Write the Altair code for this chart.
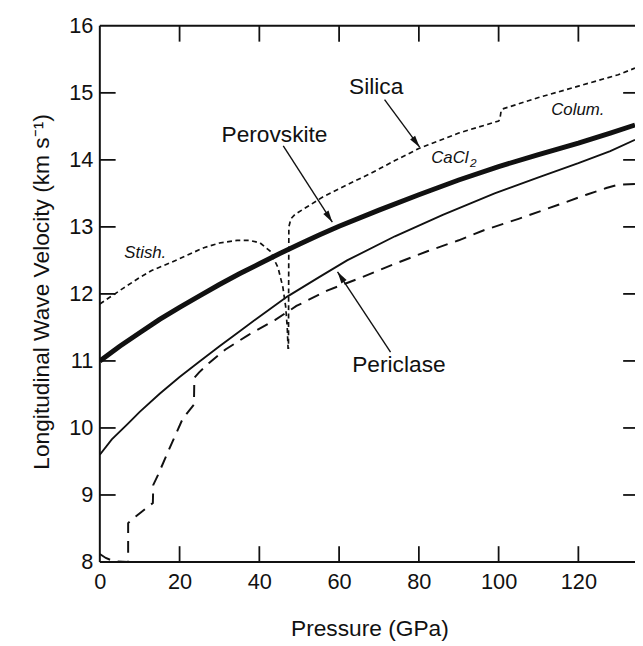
import math
import altair as alt
import pandas as pd

# ---------------- data ----------------
W, H = 542, 543
XMAX = 134.2
YMIN, YMAX = 8, 16

perov_p = [0, 5, 10, 15, 20, 25, 30, 35, 40, 45, 50, 55, 60, 70, 80, 90, 100, 110, 120, 128, 134.2]
perov_v = [11.0, 11.22, 11.42, 11.62, 11.8, 11.97, 12.14, 12.3, 12.45, 12.6, 12.74, 12.88, 13.01,
           13.25, 13.48, 13.7, 13.9, 14.08, 14.25, 14.4, 14.52]

peri_p = [0, 3, 7, 10, 15, 20, 25, 30, 35, 40, 47, 55, 62, 74, 86, 99, 110, 120, 128, 134.2]
peri_v = [9.6, 9.83, 10.06, 10.24, 10.51, 10.76, 10.99, 11.22, 11.44, 11.66, 11.96, 12.25, 12.5,
          12.86, 13.18, 13.5, 13.74, 13.95, 14.13, 14.3]

dash_p = [0, 1.5, 3.5, 7.1, 7.1, 9.0, 13.3, 13.4, 14.6, 17.5, 20.8, 23.6, 23.7, 24.9, 27.4, 31.5,
          37.3, 43.9, 49.3, 57, 65.8, 74, 82.3, 90, 96.3, 105, 115, 122, 127, 130, 134.2]
dash_v = [8.12, 8.06, 8.01, 8.0, 8.58, 8.68, 8.88, 9.15, 9.30, 9.70, 10.14, 10.35, 10.75, 10.83,
          10.97, 11.17, 11.39, 11.61, 11.82, 12.05, 12.25, 12.45, 12.64, 12.80, 12.95, 13.12, 13.33,
          13.48, 13.58, 13.63, 13.64]

sil_p = [0, 1.5, 3.5, 6, 9.6, 13, 17.9, 22, 26.1, 30, 34.4, 37.5, 40.2, 42.7, 44.7, 45.9, 46.6,
         47.0, 47.2, 47.3, 47.4, 47.9, 49, 52, 56, 62, 68, 74, 80, 90, 100, 100.3, 100.6, 101,
         110, 120, 130, 134.2]
sil_v = [11.85, 11.91, 11.99, 12.09, 12.23, 12.35, 12.47, 12.58, 12.69, 12.76, 12.8, 12.8, 12.76,
         12.64, 12.39, 12.1, 11.81, 11.5, 11.19, 11.19, 13.0, 13.12, 13.19, 13.3, 13.45, 13.63,
         13.8, 13.99, 14.17, 14.4, 14.58, 14.6, 14.72, 14.76, 14.93, 15.1, 15.27, 15.37]

x_tick_vals = [20, 40, 60, 80, 100, 120]
y_tick_vals = [9, 10, 11, 12, 13, 14, 15]
x_label_vals = [0, 20, 40, 60, 80, 100, 120]
y_label_vals = [8, 9, 10, 11, 12, 13, 14, 15, 16]

big_labels = ["Silica", "Perovskite", "Periclase"]
big_p = [69.3, 43.8, 75.0]
big_v = [14.98, 14.27, 10.84]

small_labels = ["Stish.", "CaCl", "Colum."]
small_p = [11.4, 83.1, 113.2]
small_v = [12.54, 13.96, 14.67]
small_align = ["center", "left", "left"]

sub_labels = ["2"]
sub_p = [92.8]
sub_v = [13.89]

arrow_p = [71.4, 46.0, 72.9]
arrow_v = [14.90, 14.21, 11.13]
arrow_p2 = [80.2, 58.3, 59.6]
arrow_v2 = [14.19, 13.07, 12.33]

# ---------------- helpers ----------------
FONT = "Liberation Sans"
INK = "#111111"

xs = alt.Scale(domain=[0, XMAX], nice=False, zero=False)
ys = alt.Scale(domain=[YMIN, YMAX], nice=False, zero=False)

x_axis = alt.Axis(values=x_label_vals, format="d", labelFont=FONT, labelFontSize=22,
                  labelColor=INK, labelPadding=10, labelFlush=False, ticks=False, tickSize=0,
                  domain=False, grid=False, titleFont=FONT, titleFontSize=23,
                  titleFontWeight="normal", titleColor=INK, titlePadding=25, titleX=273)
y_axis = alt.Axis(values=y_label_vals, format="d", labelFont=FONT, labelFontSize=22,
                  labelColor=INK, labelPadding=7, labelFlush=False, ticks=False, tickSize=0,
                  domain=False, grid=False, titleFont=FONT, titleFontSize=23,
                  titleFontWeight="normal", titleColor=INK, titlePadding=15, titleY=269)

XT = "Pressure (GPa)"
YT = "Longitudinal Wave Velocity (km s\u207b\u00b9)"
X = alt.X("p:Q", scale=xs, axis=x_axis, title=XT)
Y = alt.Y("v:Q", scale=ys, axis=y_axis, title=YT)


def series(ps, vs):
    return pd.DataFrame({"p": ps, "v": vs, "o": list(range(len(ps)))})


def curve(ps, vs, width, dash=None):
    kw = dict(color=INK, strokeWidth=width, clip=True, strokeCap="butt")
    if dash:
        kw["strokeDash"] = dash
    return alt.Chart(series(ps, vs)).mark_line(**kw).encode(x=X, y=Y, order="o:O")


perov = curve(perov_p, perov_v, 5.0)
peri = curve(peri_p, peri_v, 1.9)
dashed = curve(dash_p, dash_v, 2.0, [12, 8])
silica = curve(sil_p, sil_v, 1.7, [5, 3.5])

# frame
one = alt.Data(values=[{"a": 1}])
frame_top = alt.Chart(one).mark_rule(color=INK, strokeWidth=2).encode(
    x=alt.value(0), x2=alt.value(W), y=alt.value(0))
frame_left = alt.Chart(one).mark_rule(color=INK, strokeWidth=2).encode(
    x=alt.value(0), y=alt.value(0), y2=alt.value(H))
frame_bottom = alt.Chart(one).mark_rule(color=INK, strokeWidth=2).encode(
    x=alt.value(0), x2=alt.value(W), y=alt.value(H))

# inward ticks
ydf = pd.DataFrame({"v": y_tick_vals})
xdf = pd.DataFrame({"p": x_tick_vals})
tick_left = alt.Chart(ydf).mark_rule(color=INK, strokeWidth=1.8).encode(
    y=Y, x=alt.value(0), x2=alt.value(16))
tick_right = alt.Chart(ydf).mark_rule(color=INK, strokeWidth=1.8).encode(
    y=Y, x=alt.value(W - 12), x2=alt.value(W))
tick_top = alt.Chart(xdf).mark_rule(color=INK, strokeWidth=1.8).encode(
    x=X, y=alt.value(0), y2=alt.value(16))
tick_bottom = alt.Chart(xdf).mark_rule(color=INK, strokeWidth=1.8).encode(
    x=X, y=alt.value(H - 16), y2=alt.value(H))

# arrows
adf = pd.DataFrame({"p": arrow_p, "v": arrow_v, "p2": arrow_p2, "v2": arrow_v2})
sx = W / XMAX
sy = H / (YMAX - YMIN)
adf["ang"] = [
    (math.degrees(math.atan2((b - a) * sx, (d - c) * sy)) + 360) % 360
    for a, b, c, d in zip(adf["p"], adf["p2"], adf["v"], adf["v2"])
]
arrow_lines = alt.Chart(adf).mark_rule(color=INK, strokeWidth=1.4).encode(
    x=X, y=Y, x2="p2:Q", y2="v2:Q")
arrow_heads = alt.Chart(adf).mark_point(
    shape="M0,0L-0.26,1L0.26,1Z", filled=True, size=576, color=INK, opacity=1, strokeWidth=0
).encode(x=alt.X("p2:Q", scale=xs, axis=x_axis, title=XT),
         y=alt.Y("v2:Q", scale=ys, axis=y_axis, title=YT),
         angle=alt.Angle("ang:Q", scale=None))

# text labels
bdf = pd.DataFrame({"p": big_p, "v": big_v, "t": big_labels})
big_text = alt.Chart(bdf).mark_text(font=FONT, fontSize=23, color=INK, align="center",
                                    baseline="alphabetic").encode(x=X, y=Y, text="t:N")
sdf = pd.DataFrame({"p": small_p, "v": small_v, "t": small_labels, "al": small_align})
small_center = alt.Chart(sdf[sdf["al"] == "center"]).mark_text(
    font=FONT, fontSize=17, fontStyle="italic", color=INK, align="center",
    baseline="alphabetic").encode(x=X, y=Y, text="t:N")
small_left = alt.Chart(sdf[sdf["al"] == "left"]).mark_text(
    font=FONT, fontSize=17, fontStyle="italic", color=INK, align="left",
    baseline="alphabetic").encode(x=X, y=Y, text="t:N")
subdf = pd.DataFrame({"p": sub_p, "v": sub_v, "t": sub_labels})
sub_text = alt.Chart(subdf).mark_text(font=FONT, fontSize=12, fontStyle="italic", color=INK,
                                      align="left", baseline="alphabetic").encode(
    x=X, y=Y, text="t:N")

chart = alt.layer(
    silica, dashed, peri, perov,
    arrow_lines, arrow_heads,
    big_text, small_center, small_left, sub_text,
    tick_left, tick_right, tick_top, tick_bottom,
    frame_top, frame_left, frame_bottom,
).properties(
    width=W, height=H,
    autosize=alt.AutoSizeParams(type="none"),
    padding={"left": 93, "top": 14, "right": 0, "bottom": 80},
    background="white",
).configure_view(stroke=None)

chart.save("out.html", embed_options={"renderer": "svg", "actions": False})
